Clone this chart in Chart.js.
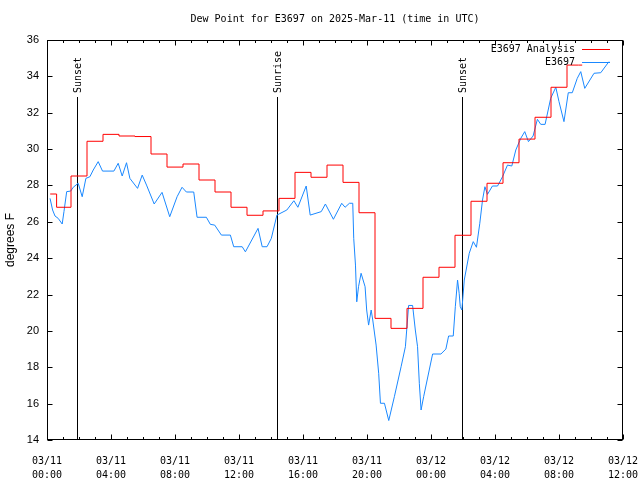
<!DOCTYPE html>
<html>
<head>
<meta charset="utf-8">
<script src="https://cdn.jsdelivr.net/npm/chart.js@4.4.1/dist/chart.umd.min.js"></script>
<style>
  html, body { margin: 0; padding: 0; background: #fff; }
  canvas { display: block; }
</style>
</head>
<body>
<canvas id="dewChart" width="640" height="480"></canvas>
<script>
const titleText = 'Dew Point for E3697 on 2025-Mar-11 (time in UTC)';
const yAxisLabel = 'degrees F';
const seriesNames = ['E3697 Analysis', 'E3697'];
const dayLabels = ['03/11', '03/12'];

// hours since 03/11 00:00 UTC
const analysisHours = [0.2, 1, 2, 3, 4, 5, 6, 7, 8, 9, 10, 11, 12, 13, 14, 15, 16,
    17, 18, 19, 20, 21, 22, 23, 24, 25, 26, 27, 28, 29, 30, 31, 32, 33, 33.45];
const analysisValues = [27.53, 26.8, 28.52, 30.43, 30.81, 30.72, 30.69, 29.73, 29.01,
    29.18, 28.3, 27.64, 26.8, 26.36, 26.6, 27.29, 28.72, 28.45, 29.12, 28.17, 26.5,
    20.69, 20.14, 21.24, 22.95, 23.5, 25.26, 27.13, 28.12, 29.25, 30.55, 31.75, 33.4,
    34.62, 34.62];

const obsHours = [
    0.19, 0.35, 0.5, 0.7, 0.95, 1.06, 1.23, 1.48, 1.64, 1.95,
    2.2, 2.43, 2.68, 2.89, 3.2, 3.47, 4.18, 4.45, 4.7, 4.97,
    5.18, 5.66, 5.95, 6.22, 6.7, 7.19, 7.67, 8.13, 8.44, 8.71,
    9.17, 9.38, 9.96, 10.21, 10.48, 10.9, 11.46, 11.67, 12.2, 12.4,
    13.19, 13.45, 13.75, 14.02, 14.37, 14.99, 15.43, 15.68, 16.2, 16.45,
    17.14, 17.4, 17.9, 18.42, 18.63, 18.9, 19.11, 19.17, 19.28, 19.36,
    19.47, 19.63, 19.88, 19.98, 20.1, 20.26, 20.36, 20.57, 20.73, 20.84,
    21.09, 21.36, 21.71, 22.13, 22.4, 22.6, 22.85, 23.02, 23.16, 23.27,
    23.38, 23.54, 23.89, 24.1, 24.62, 24.93, 25.1, 25.39, 25.52, 25.66,
    25.76, 25.83, 25.93, 26.08, 26.39, 26.64, 26.84, 27.05, 27.22, 27.37,
    27.53, 27.84, 28.16, 28.47, 28.78, 29.05, 29.3, 29.61, 29.86, 30.09,
    30.38, 30.65, 30.86, 31.13, 31.48, 31.8, 32.0, 32.31, 32.58, 32.83,
    33.14, 33.36, 33.61, 34.19, 34.61, 35.12];
const obsValues = [
    27.29, 26.65, 26.32, 26.19, 25.88, 26.56, 27.66, 27.69, 27.9, 28.12,
    27.38, 28.39, 28.48, 28.85, 29.31, 28.79, 28.79, 29.22, 28.52, 29.25,
    28.39, 27.84, 28.57, 28.02, 26.98, 27.62, 26.28, 27.38, 27.9, 27.64,
    27.64, 26.25, 26.25, 25.86, 25.82, 25.27, 25.27, 24.63, 24.63, 24.35,
    25.64, 24.63, 24.63, 25.09, 26.37, 26.65, 27.16, 26.8, 27.97, 26.37,
    26.56, 26.98, 26.14, 27.02, 26.8, 27.02, 27.02, 25.09, 23.62, 21.6,
    22.43, 23.17, 22.43, 21.15, 20.32, 21.15, 20.6, 19.22, 17.67, 16.02,
    16.02, 15.07, 16.38, 18.03, 19.13, 21.4, 21.4, 20.05, 19.13, 17.12,
    15.65, 16.38, 17.85, 18.73, 18.73, 19.0, 19.72, 19.72, 21.33, 22.8,
    22.07, 21.33, 21.15, 22.8, 24.27, 24.91, 24.6, 25.92, 27.2, 27.93,
    27.51, 27.97, 27.97, 28.48, 29.12, 29.07, 29.95, 30.59, 30.96, 30.41,
    30.72, 31.64, 31.36, 31.36, 32.79, 33.4, 32.61, 31.51, 33.1, 33.1,
    33.89, 34.26, 33.34, 34.17, 34.2, 34.81];

const sunHours = [1.9, 14.4, 25.95];
const sunLabels = ['Sunset', 'Sunrise', 'Sunset'];

const monoFont = '10px "DejaVu Sans Mono", "Liberation Mono", monospace';
const colors = ['#ff0000', '#1a88ff'];

// gnuplot-like frame, inward ticks, title, legend and sun markers
const decorations = {
    id: 'decorations',
    beforeDatasetsDraw(chart) {
        const { ctx, chartArea: a, scales: { x } } = chart;
        ctx.save();
        ctx.strokeStyle = '#000';
        ctx.fillStyle = '#000';
        ctx.lineWidth = 1;
        ctx.font = monoFont;
        sunHours.forEach((h, i) => {
            const px = Math.round(x.getPixelForValue(h)) + 0.5;
            ctx.beginPath();
            ctx.moveTo(px, 97);
            ctx.lineTo(px, a.bottom);
            ctx.stroke();
            ctx.save();
            ctx.translate(px + 1, 93);
            ctx.rotate(-Math.PI / 2);
            ctx.textAlign = 'left';
            ctx.textBaseline = 'middle';
            ctx.fillText(sunLabels[i], 0, 0);
            ctx.restore();
        });
        ctx.restore();
    },
    afterDraw(chart) {
        const { ctx, chartArea: a, scales: { x, y } } = chart;
        ctx.save();
        ctx.strokeStyle = '#000';
        ctx.lineWidth = 1;
        const L = Math.round(a.left) + 0.5, R = Math.round(a.right) - 0.5;
        const T = Math.round(a.top) + 0.5, B = Math.round(a.bottom) - 0.5;
        ctx.strokeRect(L, T, R - L, B - T);

        ctx.beginPath();
        for (let h = 0; h <= 36; h++) {
            const px = Math.round(x.getPixelForValue(h)) + 0.5;
            const len = h % 4 === 0 ? 5 : 2.5;
            ctx.moveTo(px, B); ctx.lineTo(px, B - len);
            ctx.moveTo(px, T); ctx.lineTo(px, T + len);
        }
        for (let v = 14; v <= 36; v += 2) {
            const py = Math.round(y.getPixelForValue(v)) + 0.5;
            ctx.moveTo(L, py); ctx.lineTo(L + 5, py);
            ctx.moveTo(R, py); ctx.lineTo(R - 5, py);
        }
        ctx.stroke();

        ctx.fillStyle = '#000';
        ctx.font = monoFont;
        ctx.textAlign = 'center';
        ctx.textBaseline = 'middle';
        ctx.fillText(titleText, (a.left + a.right) / 2, 19);

        ctx.save();
        ctx.font = '12px "Liberation Sans", Arial, sans-serif';
        ctx.translate(11, 240);
        ctx.rotate(-Math.PI / 2);
        ctx.fillText(yAxisLabel, 0, 0);
        ctx.restore();

        // legend, top right inside the frame
        ctx.textAlign = 'right';
        seriesNames.forEach((name, i) => {
            const ly = 49 + i * 13;
            ctx.fillStyle = '#000';
            ctx.fillText(name, 575, ly);
            ctx.strokeStyle = colors[i];
            ctx.beginPath();
            ctx.moveTo(582, ly + 0.5);
            ctx.lineTo(610, ly + 0.5);
            ctx.stroke();
        });
        ctx.restore();
    }
};

const pad2 = n => String(n).padStart(2, '0');

new Chart(document.getElementById('dewChart'), {
    type: 'line',
    data: {
        datasets: [
            {
                label: seriesNames[0],
                data: analysisHours.map((h, i) => ({ x: h, y: analysisValues[i] })),
                borderColor: colors[0],
                borderWidth: 1,
                pointRadius: 0,
                stepped: 'middle',
                fill: false
            },
            {
                label: seriesNames[1],
                data: obsHours.map((h, i) => ({ x: h, y: obsValues[i] })),
                borderColor: colors[1],
                borderWidth: 1,
                pointRadius: 0,
                tension: 0,
                fill: false
            }
        ]
    },
    options: {
        responsive: false,
        animation: false,
        devicePixelRatio: 1,
        layout: {
            autoPadding: false,
            padding: { top: 40, right: 17, bottom: 0, left: 0 }
        },
        plugins: {
            legend: { display: false },
            tooltip: { enabled: false },
            title: { display: false }
        },
        scales: {
            x: {
                type: 'linear',
                min: 0,
                max: 36,
                grid: { display: false, drawTicks: false },
                border: { display: false },
                afterFit: s => {
                    s.height = 40;
                    s.paddingLeft = 0;
                    s.paddingRight = 0;
                },
                ticks: {
                    stepSize: 4,
                    autoSkip: false,
                    maxRotation: 0,
                    padding: 14,
                    color: '#000',
                    font: { family: '"DejaVu Sans Mono", monospace', size: 10, lineHeight: 1.4 },
                    callback: v => [dayLabels[v < 24 ? 0 : 1], pad2(v % 24) + ':00']
                }
            },
            y: {
                min: 14,
                max: 36,
                grid: { display: false, drawTicks: false },
                border: { display: false },
                afterFit: s => {
                    s.width = 47;
                    s.paddingTop = 0;
                    s.paddingBottom = 0;
                },
                ticks: {
                    stepSize: 2,
                    padding: 8,
                    color: '#000',
                    font: { family: '"Liberation Sans", Arial, sans-serif', size: 11 }
                }
            }
        }
    },
    plugins: [decorations]
});
</script>
</body>
</html>
